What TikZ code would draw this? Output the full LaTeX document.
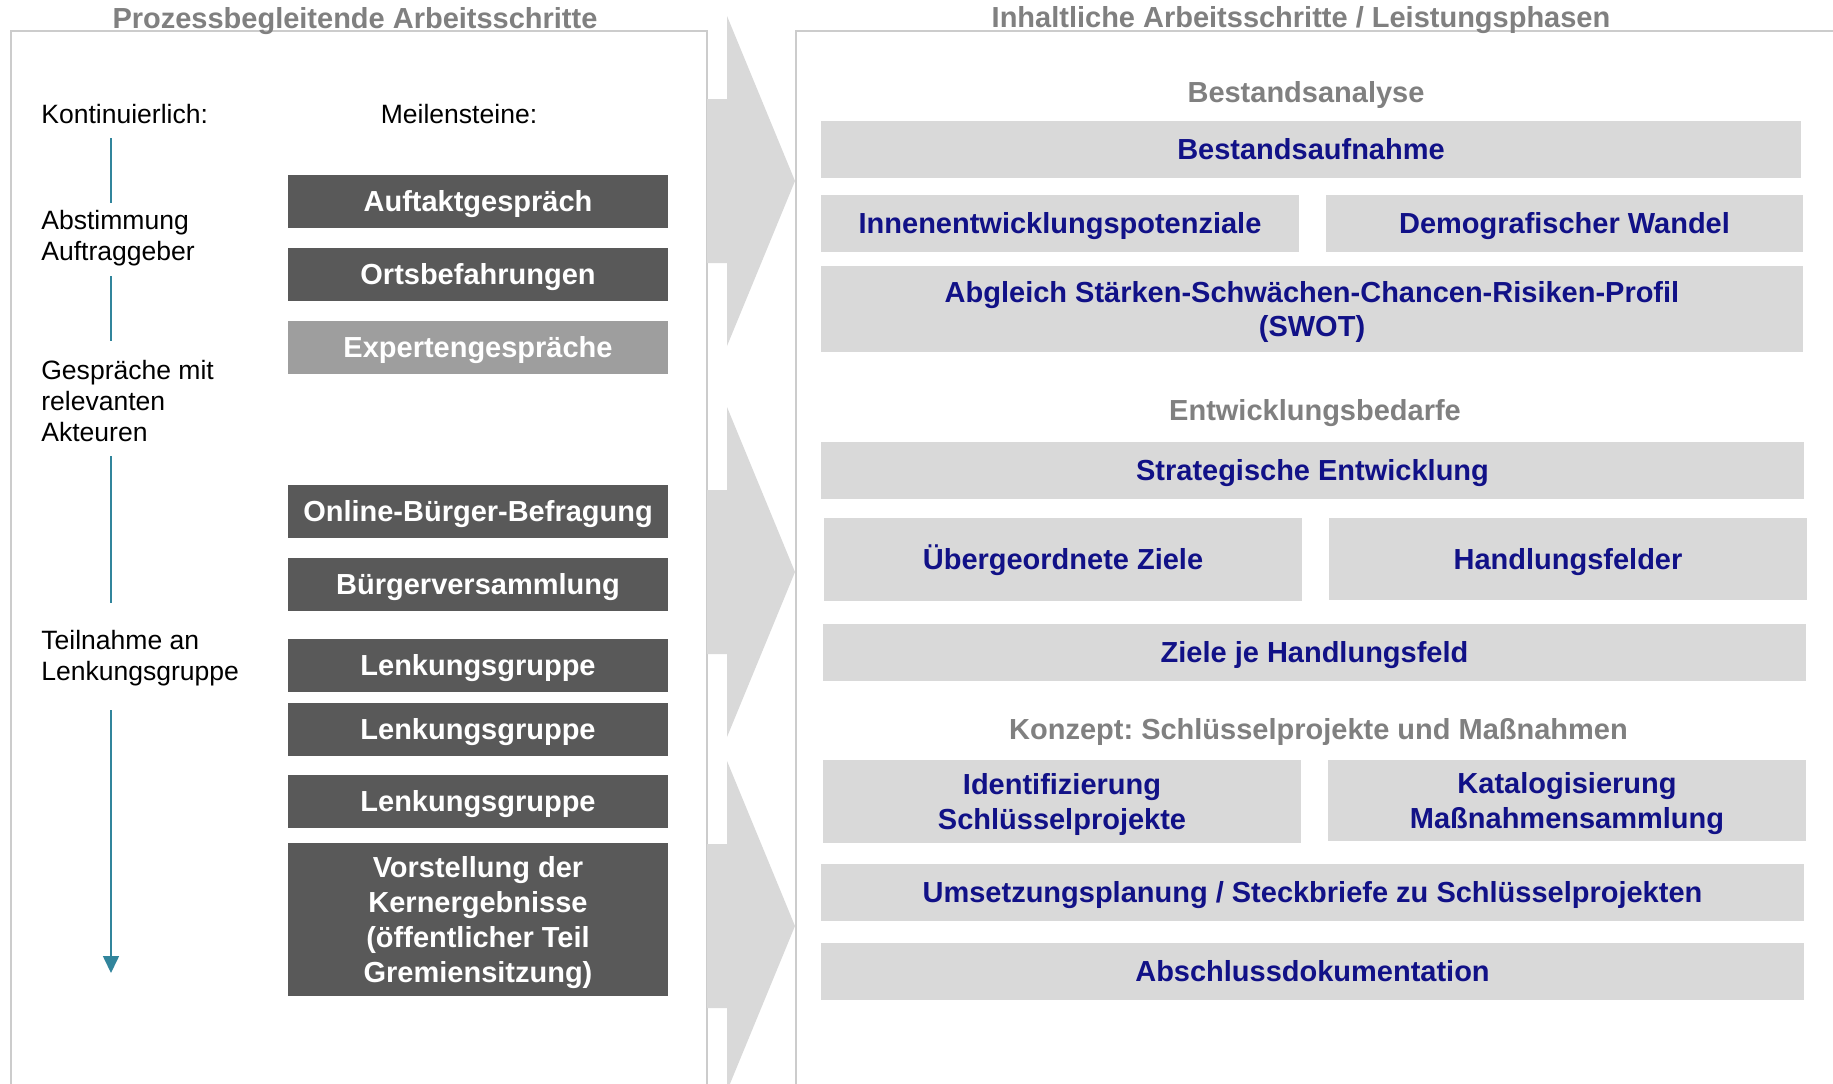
\documentclass[tikz,border=0pt]{standalone}
\usepackage{fontspec}
\setmainfont{Liberation Sans}
\usetikzlibrary{positioning,arrows.meta}
\frenchspacing

\definecolor{mstgray}{HTML}{595959}
\definecolor{mstlight}{HTML}{9E9E9E}
\definecolor{phsgray}{HTML}{D9D9D9}
\definecolor{phsblue}{HTML}{111187}
\definecolor{hdrgray}{HTML}{808080}
\definecolor{pnlgray}{HTML}{CCCCCC}
\definecolor{tlteal}{HTML}{31859C}

\begin{document}
\begin{tikzpicture}[
  x=0.02cm, y=-0.02cm,
  ttl/.style={font=\fontsize{16.5}{19.9}\selectfont\bfseries, text=hdrgray, anchor=base, inner sep=0pt},
  lbl/.style={font=\fontsize{15.1}{17.6}\selectfont, anchor=base west, align=left, inner sep=0pt},
  mst/.style={rectangle, fill=mstgray, text=white, font=\fontsize{16.5}{19.9}\selectfont\bfseries,
              minimum width=7.6cm, minimum height=1.06cm, inner sep=0pt, align=center,
              text height=11.9pt, text depth=0pt},
  mstl/.style={mst, fill=mstlight},
  phs/.style={rectangle, fill=phsgray, text=phsblue, font=\fontsize{16.5}{19.9}\selectfont\bfseries,
              minimum height=1.14cm, inner sep=0pt, align=center,
              text height=11.9pt, text depth=0pt},
  phw/.style={phs, minimum width=19.66cm},
  phh/.style={phs, minimum width=9.56cm},
  ml/.style={text height={}},
  pnl/.style={draw=pnlgray, line width=0.6pt},
  flw/.style={fill=phsgray},
  tl/.style={draw=tlteal, line width=0.9pt},
  tla/.style={tl, -{Triangle[length=0.34cm,width=0.32cm]}}
]
\useasboundingbox (0,0) rectangle (1833,1083);
\fill[white] (0,0) rectangle (1833,1083);
\clip (0,0) rectangle (1833,1083);

% panels and flow arrows
\draw[pnl] (11,1100) -- (11,31) -- (707,31) -- (707,1100);
\draw[pnl] (796,1100) -- (796,31) -- (1850,31);
\foreach \c in {181,572,926}
  \fill[flw] (707,\c-82) -- (727,\c-82) -- (727,\c-165) -- (795,\c)
             -- (727,\c+165) -- (727,\c+82) -- (707,\c+82) -- cycle;

\node[ttl] (tleft)  at (355,28)  {Prozessbegleitende Arbeitsschritte};
\node[ttl] (tright) at (1301,27) {Inhaltliche Arbeitsschritte / Leistungsphasen};

% left: continuous steps
\node[lbl] (kon)  at (41,123) {Kontinuierlich:};
\node[lbl, anchor=base] (mei) at (459,123) {Meilensteine:};
\node[lbl] (abst) at (41,260) {Abstimmung\\Auftraggeber};
\node[lbl] (ges)  at (41,441) {Gespräche mit\\relevanten\\Akteuren};
\node[lbl] (tei)  at (41,680) {Teilnahme an\\Lenkungsgruppe};

\coordinate (t1a) at (111,138); \coordinate (t1b) at (111,203);
\coordinate (t2a) at (111,276); \coordinate (t2b) at (111,341);
\coordinate (t3a) at (111,456); \coordinate (t3b) at (111,603);
\coordinate (t4a) at (111,710); \coordinate (t4b) at (111,973);
\draw[tl] (t1a) -- (t1b);
\draw[tl] (t2a) -- (t2b);
\draw[tl] (t3a) -- (t3b);
\draw[tla] (t4a) -- (t4b);

% left: milestones
\node[mst]  (auf) at (478,201.5) {Auftaktgespräch};
\node[mst]  (ort) at (478,274)   {Ortsbefahrungen};
\node[mstl] (exp) at (478,347.5) {Expertengespräche};
\node[mst]  (onl) at (478,511)   {Online-Bürger-Befragung};
\node[mst]  (bvs) at (478,584)   {Bürgerversammlung};
\node[mst]  (lg1) at (478,665)   {Lenkungsgruppe};
\node[mst]  (lg2) at (478,729)   {Lenkungsgruppe};
\node[mst]  (lg3) at (478,801)   {Lenkungsgruppe};
\node[mst, ml, minimum height=3.06cm] (vst) at (478,919.5)
  {Vorstellung der\\Kernergebnisse\\(öffentlicher Teil\\Gremiensitzung)};

% right: phases
\node[ttl] (ban) at (1306,102) {Bestandsanalyse};
\node[phw, minimum width=19.6cm] (bau) at (1311,149.5) {Bestandsaufnahme};
\node[phh] (iep) at (1060,223.5)   {Innenentwicklungspotenziale};
\node[phh] (dgw) at (1564.5,223.5) {Demografischer Wandel};
\node[phw, ml, minimum height=1.72cm] (swot) at (1312,309)
  {Abgleich Stärken-Schwächen-Chancen-Risiken-Profil\\(SWOT)};

\node[ttl] (ebd) at (1315,420) {Entwicklungsbedarfe};
\node[phw] (sen) at (1312.5,470.5) {Strategische Entwicklung};
\node[phh, minimum height=1.66cm] (uez) at (1063,559.5) {Übergeordnete Ziele};
\node[phh, minimum height=1.64cm] (hfe) at (1568,559)   {Handlungsfelder};
\node[phw] (zjh) at (1314.5,652.5) {Ziele je Handlungsfeld};

\node[ttl] (kzp) at (1318.5,739) {Konzept: Schlüsselprojekte und Maßnahmen};
\node[phh, ml, minimum height=1.66cm] (ids) at (1062,801.5) {Identifizierung\\Schlüsselprojekte};
\node[phh, ml, minimum height=1.62cm] (kms) at (1567,800.5) {Katalogisierung\\Maßnahmensammlung};
\node[phw] (usp) at (1312.5,892.5) {Umsetzungsplanung / Steckbriefe zu Schlüsselprojekten};
\node[phw] (abd) at (1312.5,971.5) {Abschlussdokumentation};
\end{tikzpicture}
\end{document}
